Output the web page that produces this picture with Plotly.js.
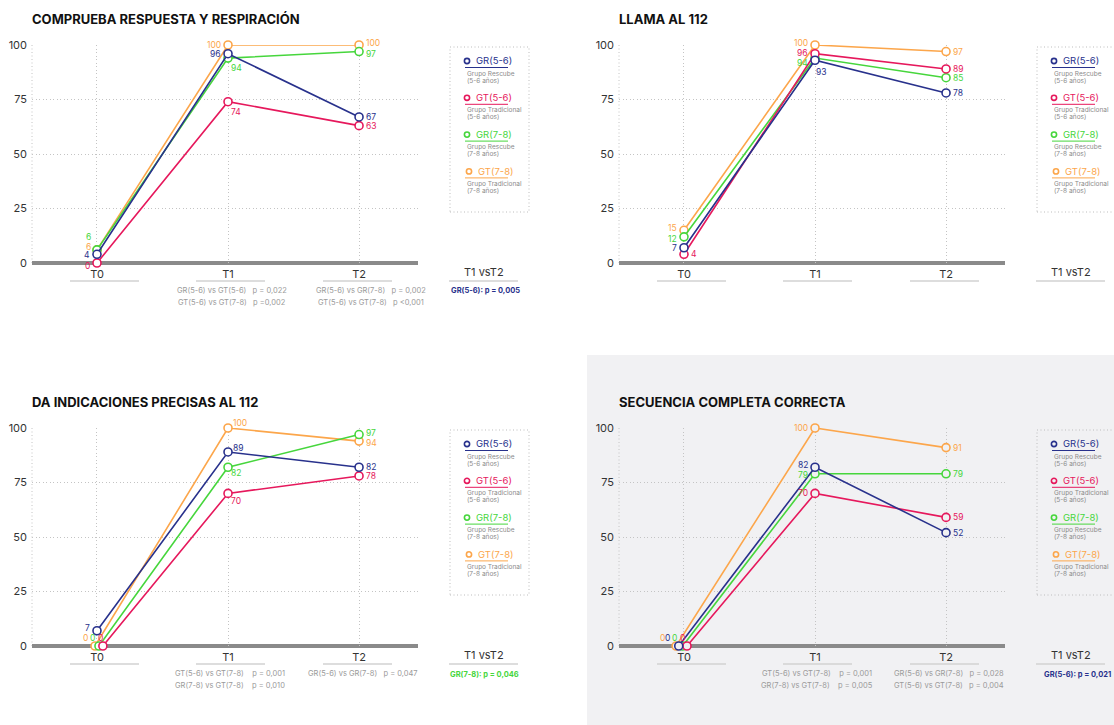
<!DOCTYPE html>
<html>
<head>
<meta charset="utf-8">
<script src="https://cdn.plot.ly/plotly-3.0.1.min.js"></script>
<style>html,body{margin:0;padding:0;background:#fff;}#chart{width:1114px;height:725px;}</style>
</head>
<body>
<div id="chart"></div>
<script>
// ---------------- DATA ----------------
const timepoints = ['T0', 'T1', 'T2'];
const groups = ['GR(5-6)', 'GT(5-6)', 'GR(7-8)', 'GT(7-8)'];
const groupDesc = ['Grupo Rescube', 'Grupo Tradicional', 'Grupo Rescube', 'Grupo Tradicional'];
const groupAges = ['(5-6 años)', '(5-6 años)', '(7-8 años)', '(7-8 años)'];
const panelTitles = ['COMPRUEBA RESPUESTA Y RESPIRACIÓN', 'LLAMA AL 112', 'DA INDICACIONES PRECISAS AL 112', 'SECUENCIA COMPLETA CORRECTA'];
const yTicks = [0, 25, 50, 75, 100];
const compareLabel = 'T1 vsT2';

// Panel 1: Comprueba respuesta y respiración
const resp_GR56 = [4, 96, 67];
const resp_GT56 = [0, 74, 63];
const resp_GR78 = [6, 94, 97];
const resp_GT78 = [6, 100, 100];
const resp_T1_tests = ['GR(5-6) vs GT(5-6)\u00a0\u00a0\u00a0p = 0,022', 'GT(5-6) vs GT(7-8)\u00a0\u00a0\u00a0p =0,002'];
const resp_T2_tests = ['GR(5-6) vs GR(7-8)\u00a0\u00a0\u00a0p = 0,002', 'GT(5-6) vs GT(7-8)\u00a0\u00a0\u00a0p <0,001'];
const resp_T1vsT2 = 'GR(5-6): p = 0,005';

// Panel 2: Llama al 112
const llama_GR56 = [7, 93, 78];
const llama_GT56 = [4, 96, 89];
const llama_GR78 = [12, 94, 85];
const llama_GT78 = [15, 100, 97];
const llama_T1_tests = [];
const llama_T2_tests = [];
const llama_T1vsT2 = '';

// Panel 3: Da indicaciones precisas al 112
const indic_GR56 = [7, 89, 82];
const indic_GT56 = [0, 70, 78];
const indic_GR78 = [0, 82, 97];
const indic_GT78 = [0, 100, 94];
const indic_T1_tests = ['GT(5-6) vs GT(7-8)\u00a0\u00a0\u00a0\u00a0p = 0,001', 'GR(7-8) vs GT(7-8)\u00a0\u00a0\u00a0\u00a0p = 0,010'];
const indic_T2_tests = ['GR(5-6) vs GR(7-8)\u00a0\u00a0\u00a0p = 0,047'];
const indic_T1vsT2 = 'GR(7-8): p = 0,046';

// Panel 4: Secuencia completa correcta
const secu_GR56 = [0, 82, 52];
const secu_GT56 = [0, 70, 59];
const secu_GR78 = [0, 79, 79];
const secu_GT78 = [0, 100, 91];
const secu_T1_tests = ['GT(5-6) vs GT(7-8)\u00a0\u00a0\u00a0\u00a0p = 0,001', 'GR(7-8) vs GT(7-8)\u00a0\u00a0\u00a0\u00a0p = 0,005'];
const secu_T2_tests = ['GR(5-6) vs GR(7-8)\u00a0\u00a0\u00a0p = 0,028', 'GT(5-6) vs GT(7-8)\u00a0\u00a0\u00a0p = 0,004'];
const secu_T1vsT2 = 'GR(5-6): p = 0,021';

const panelSeries = [
  [resp_GR56, resp_GT56, resp_GR78, resp_GT78],
  [llama_GR56, llama_GT56, llama_GR78, llama_GT78],
  [indic_GR56, indic_GT56, indic_GR78, indic_GT78],
  [secu_GR56, secu_GT56, secu_GR78, secu_GT78]
];
const panelT1 = [resp_T1_tests, llama_T1_tests, indic_T1_tests, secu_T1_tests];
const panelT2 = [resp_T2_tests, llama_T2_tests, indic_T2_tests, secu_T2_tests];
const panelCmp = [resp_T1vsT2, llama_T1vsT2, indic_T1vsT2, secu_T1vsT2];

// ---------------- STYLE ----------------
const W = 1114, H = 725;
const FONT = 'Inter, "Liberation Sans", Arial, sans-serif';
const colors = ['#28318c', '#e6185c', '#46d63c', '#fca64b'];
const cmpColors = ['#28318c', null, '#46d63c', '#28318c'];
const offsets = [[0, 0], [587, 0], [0, 383], [587, 383]];
const panelBg = ['#ffffff', '#ffffff', '#ffffff', '#f1f1f3'];
const drawOrder = [3, 2, 1, 0];
const GRIDDASH = '1px,2.5px';
// T0 horizontal nudges (axis units) so overlapping zero points stay visible
const t0Nudge = [[0, 0, 0, 0], [0, 0, 0, 0], [0, 0.045, 0.015, -0.015], [-0.04, 0.023, -0.01, -0.06]];
// label placements: code or [xanchor, xshift, yshift]
const labelPos = [
  [[['right', -5, -1], 'l', 'r'], [['right', -5, -3], 'br', 'r'], [['right', -4, 13], 'br', ['left', 5, -2]], [['right', -4, 3], 'l', ['left', 5, 2]]],
  [['l', ['left', -1, -12], 'r'], ['r', ['right', -5, 1], 'r'], [['right', -5, -2], ['right', -5, -5], 'r'], [['right', -5, 2], ['right', -5, 2], 'r']],
  [[['right', -5, 3], ['left', 3, 4], 'r'], [['center', -2, 8], ['left', 1, -8], 'r'], [['center', -6, 8], ['left', 1, -6], ['left', 5, 2]], [['center', -10, 8], ['left', 3, 5], ['left', 5, -2]]],
  [[['center', -11, 8], ['right', -5, 2], 'r'], [['center', -5, 8], 'l', 'r'], [['center', -8, 8], ['right', -5, -1], 'r'], [['center', -14, 8], 'l', 'r']]
];
const codes = { r: ['left', 5, 0], l: ['right', -5, 0], br: ['left', 1, -10] };
// centers (panel-1 pixel frame) of the p-value blocks
const t1Center = [232, 232, 230, 230];
const t2Center = [371, 371, 363, 362];
const cmpCenter = [485, 485, 484, 490];

const px = x => x / W;
const py = y => 1 - y / H;

const traces = [];
const annotations = [];
const shapes = [];
const layout = {
  width: W, height: H,
  margin: { l: 0, r: 0, t: 0, b: 0 },
  paper_bgcolor: '#ffffff',
  plot_bgcolor: 'rgba(0,0,0,0)',
  showlegend: false,
  font: { family: FONT, color: '#333' },
  hovermode: false
};

// background for panel 4
shapes.push({ type: 'rect', xref: 'paper', yref: 'paper', x0: px(587), x1: 1, y0: 0, y1: py(355), fillcolor: '#f1f1f3', line: { width: 0 }, layer: 'below' });

for (let k = 0; k < 4; k++) {
  const [dx, dy] = offsets[k];
  const xa = k === 0 ? 'x' : 'x' + (k + 1);
  const ya = k === 0 ? 'y' : 'y' + (k + 1);
  const xKey = k === 0 ? 'xaxis' : 'xaxis' + (k + 1);
  const yKey = k === 0 ? 'yaxis' : 'yaxis' + (k + 1);

  layout[xKey] = {
    domain: [px(32 + dx), px(418 + dx)],
    range: [-0.496, 2.45],
    anchor: ya,
    tickvals: [0, 1, 2],
    ticktext: timepoints,
    tickfont: { size: 11, color: '#333', family: FONT },
    ticks: '',
    showgrid: true, gridcolor: '#c4c4c4', griddash: GRIDDASH, gridwidth: 1,
    showline: false,
    zeroline: false, fixedrange: true, layer: 'below traces',
    ticklabelstandoff: 3
  };
  layout[yKey] = {
    domain: [py(263 + dy), py(45 + dy)],
    range: [0, 100],
    anchor: xa,
    tickvals: yTicks,
    tickfont: { size: 11, color: '#333', family: FONT },
    ticks: '',
    showgrid: true, gridcolor: '#c4c4c4', griddash: GRIDDASH, gridwidth: 1,
    showline: false, zeroline: false, fixedrange: true, layer: 'below traces',
    ticklabelstandoff: 4
  };

  // left dotted edge
  shapes.push({ type: 'line', xref: xa + ' domain', yref: ya, x0: 0, x1: 0, y0: 0, y1: 100, line: { color: '#c4c4c4', width: 1, dash: GRIDDASH }, layer: 'below' });
  // thick baseline (paper-referenced so it is not clipped by the plot area)
  shapes.push({ type: 'line', xref: 'paper', yref: 'paper', x0: px(32 + dx), x1: px(418 + dx), y0: py(263 + dy), y1: py(263 + dy), line: { color: '#8a8a8a', width: 4 }, layer: 'below' });

  // title
  annotations.push({ xref: 'paper', yref: 'paper', x: px(30 + dx), y: py(19 + dy), xanchor: 'left', yanchor: 'middle', showarrow: false,
    text: '<b>' + panelTitles[k] + '</b>', font: { size: 13, color: '#111', family: FONT } });

  // series
  drawOrder.forEach(s => {
    const vals = panelSeries[k][s];
    const xs = vals.map((v, i) => i + (i === 0 ? t0Nudge[k][s] : 0));
    traces.push({
      type: 'scatter', mode: 'lines+markers', x: xs, y: vals, xaxis: xa, yaxis: ya,
      line: { color: colors[s], width: 1.6 },
      marker: { symbol: 'circle', size: 8, color: panelBg[k], line: { color: colors[s], width: 1.6 } },
      cliponaxis: false, hoverinfo: 'skip'
    });
    vals.forEach((v, i) => {
      let p = labelPos[k][s][i];
      if (typeof p === 'string') p = codes[p];
      annotations.push({ xref: xa, yref: ya, x: xs[i], y: v, text: String(v), showarrow: false,
        xanchor: p[0], yanchor: 'middle', xshift: p[1], yshift: p[2],
        font: { size: 8.5, color: colors[s], family: FONT } });
    });
  });

  // underlines below ticks + compare header
  [[70, 139], [196, 265], [323, 392], [449, 518]].forEach(([a, b]) => {
    shapes.push({ type: 'line', xref: 'paper', yref: 'paper', x0: px(a + dx), x1: px(b + dx), y0: py(281 + dy), y1: py(281 + dy), line: { color: '#d2d2d2', width: 1.5 } });
  });
  annotations.push({ xref: 'paper', yref: 'paper', x: px(484 + dx), y: py(272 + dy), text: compareLabel, showarrow: false,
    xanchor: 'center', yanchor: 'middle', font: { size: 11, color: '#333', family: FONT } });

  panelT1[k].forEach((t, j) => annotations.push({ xref: 'paper', yref: 'paper', x: px(t1Center[k] + dx), y: py(290 + 12 * j + dy), text: t, showarrow: false,
    xanchor: 'center', yanchor: 'middle', font: { size: 7.5, color: '#9a9a9a', family: FONT } }));
  panelT2[k].forEach((t, j) => annotations.push({ xref: 'paper', yref: 'paper', x: px(t2Center[k] + dx), y: py(290 + 12 * j + dy), text: t, showarrow: false,
    xanchor: 'center', yanchor: 'middle', font: { size: 7.5, color: '#9a9a9a', family: FONT } }));
  if (panelCmp[k]) annotations.push({ xref: 'paper', yref: 'paper', x: px(cmpCenter[k] + dx), y: py(291 + dy), text: '<b>' + panelCmp[k] + '</b>', showarrow: false,
    xanchor: 'center', yanchor: 'middle', font: { size: 7.5, color: cmpColors[k], family: FONT } });

  // custom legend box
  shapes.push({ type: 'rect', xref: 'paper', yref: 'paper', x0: px(450 + dx), x1: px(529 + dx), y0: py(212 + dy), y1: py(47 + dy),
    line: { color: '#bdbdbd', width: 1, dash: GRIDDASH }, fillcolor: 'rgba(0,0,0,0)' });
  groups.forEach((g, s) => {
    const yy = 61 + 36.8 * s + dy;
    const cx = (s === 3 ? 469 : 467) + dx;
    shapes.push({ type: 'circle', xref: 'paper', yref: 'paper', x0: px(cx - 2.6), x1: px(cx + 2.6), y0: py(yy + 2.6), y1: py(yy - 2.6),
      line: { color: colors[s], width: 1.6 }, fillcolor: panelBg[k] });
    annotations.push({ xref: 'paper', yref: 'paper', x: px(cx + 7), y: py(yy), text: g, showarrow: false, xanchor: 'left', yanchor: 'middle',
      font: { size: 9.5, color: colors[s], family: FONT } });
    shapes.push({ type: 'line', xref: 'paper', yref: 'paper', x0: px(465 + dx), x1: px(508 + dx), y0: py(yy + 6.5), y1: py(yy + 6.5),
      line: { color: colors[s], width: 1 } });
    annotations.push({ xref: 'paper', yref: 'paper', x: px(465 + dx), y: py(yy + 12.5), text: groupDesc[s], showarrow: false, xanchor: 'left', yanchor: 'middle',
      font: { size: 6.5, color: '#8a8a8a', family: FONT } });
    annotations.push({ xref: 'paper', yref: 'paper', x: px(465 + dx), y: py(yy + 19.5), text: groupAges[s], showarrow: false, xanchor: 'left', yanchor: 'middle',
      font: { size: 6.5, color: '#8a8a8a', family: FONT } });
  });
}

layout.annotations = annotations;
layout.shapes = shapes;
Plotly.newPlot('chart', traces, layout, { displayModeBar: false, staticPlot: true });
</script>
</body>
</html>
